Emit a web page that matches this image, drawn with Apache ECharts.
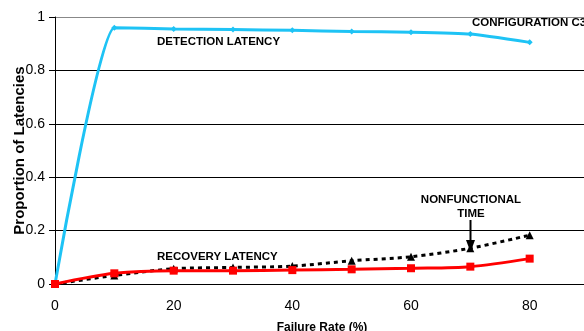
<!DOCTYPE html>
<html>
<head>
<meta charset="utf-8">
<script src="https://cdn.jsdelivr.net/npm/echarts@6/dist/echarts.min.js"></script>
<style>
    html, body { margin: 0; padding: 0; background: #fff; }
    #chart { width: 584px; height: 331px; }
</style>
</head>
<body>
<div id="chart"></div>
<script>
    // failure rate (%)
    var failureRates = [0, 10, 20, 30, 40, 50, 60, 70, 80];
    var detectionLatency = [0, 0.96, 0.955, 0.953, 0.95, 0.946, 0.943, 0.936, 0.905];
    var recoveryLatency = [0, 0.04, 0.05, 0.05, 0.052, 0.055, 0.059, 0.065, 0.095];
    var nonfunctionalTime = [0, 0.032, 0.057, 0.062, 0.067, 0.087, 0.102, 0.134, 0.183];
    var yTicks = [0, 0.2, 0.4, 0.6, 0.8, 1];

    function pairs(values) {
        return failureRates.map(function (x, i) { return [x, values[i]]; });
    }

    var font = 'Liberation Sans, Arial, sans-serif';
    var noteFont = 'bold 11.5px ' + font;

    var option = {
        animation: false,
        grid: { left: 55, right: -5, top: 17, bottom: 47, containLabel: false, outerBoundsMode: 'none' },
        xAxis: {
            type: 'value',
            min: 0,
            max: 90,
            interval: 20,
            name: 'Failure Rate (%)',
            nameLocation: 'middle',
            nameGap: 38,
            nameMoveOverlap: false,
            nameTextStyle: { fontFamily: font, fontWeight: 'bold', fontSize: 12, color: '#000' },
            axisLine: { lineStyle: { color: '#000', width: 1 } },
            axisTick: { show: false },
            splitLine: { show: false },
            axisLabel: {
                fontFamily: font, fontSize: 14, color: '#000', margin: 15,
                formatter: function (v) { return v <= 80 ? String(v) : ''; }
            }
        },
        yAxis: {
            type: 'value',
            min: 0,
            max: 1,
            interval: 0.2,
            name: 'Proportion of Latencies',
            nameLocation: 'middle',
            nameGap: 28,
            nameMoveOverlap: false,
            nameTextStyle: { fontFamily: font, fontWeight: 'bold', fontSize: 15, color: '#000' },
            axisLine: { show: true, lineStyle: { color: '#000', width: 1 } },
            axisTick: { show: true, length: 6, lineStyle: { color: '#000' } },
            splitLine: { show: true, lineStyle: { color: ['#000', '#000', '#000', '#000', '#000', '#888'], width: 1 } },
            axisLabel: {
                fontFamily: font, fontSize: 14, color: '#000', margin: 10,
                formatter: function (v) {
                    var r = Math.round(v * 10) / 10;
                    return yTicks.indexOf(r) >= 0 ? String(r) : '';
                }
            }
        },
        series: [
            {
                name: 'DETECTION LATENCY',
                type: 'line',
                data: pairs(detectionLatency),
                smooth: 0.15,
                symbol: 'diamond',
                symbolSize: 6,
                itemStyle: { color: '#1ec3f5' },
                lineStyle: { color: '#1ec3f5', width: 3 },
                z: 3
            },
            {
                name: 'NONFUNCTIONAL TIME',
                type: 'line',
                data: pairs(nonfunctionalTime),
                smooth: 0.3,
                symbol: 'triangle',
                symbolSize: 8,
                itemStyle: { color: '#000' },
                lineStyle: { color: '#000', width: 3, type: [4, 4] },
                z: 2
            },
            {
                name: 'RECOVERY LATENCY',
                type: 'line',
                data: pairs(recoveryLatency),
                smooth: 0.3,
                symbol: 'rect',
                symbolSize: 8,
                itemStyle: { color: '#ff0000' },
                lineStyle: { color: '#ff0000', width: 3 },
                z: 4
            }
        ],
        graphic: [
            { type: 'text', x: 157, y: 41.5, style: { text: 'DETECTION LATENCY', font: noteFont, fill: '#000', verticalAlign: 'middle' } },
            { type: 'text', x: 472, y: 23, style: { text: 'CONFIGURATION C3', font: noteFont, fill: '#000', verticalAlign: 'middle' } },
            { type: 'text', x: 157, y: 257, style: { text: 'RECOVERY LATENCY', font: noteFont, fill: '#000', verticalAlign: 'middle' } },
            { type: 'text', x: 471, y: 207, style: { text: 'NONFUNCTIONAL\nTIME', font: noteFont, fill: '#000', align: 'center', verticalAlign: 'middle', lineHeight: 14 } },
            { type: 'line', shape: { x1: 470.5, y1: 220, x2: 470.5, y2: 242 }, style: { stroke: '#000', lineWidth: 2 } },
            { type: 'polygon', shape: { points: [[466, 240], [475, 240], [470.5, 252]] }, style: { fill: '#000' } }
        ]
    };

    echarts.init(document.getElementById('chart')).setOption(option);
</script>
</body>
</html>
